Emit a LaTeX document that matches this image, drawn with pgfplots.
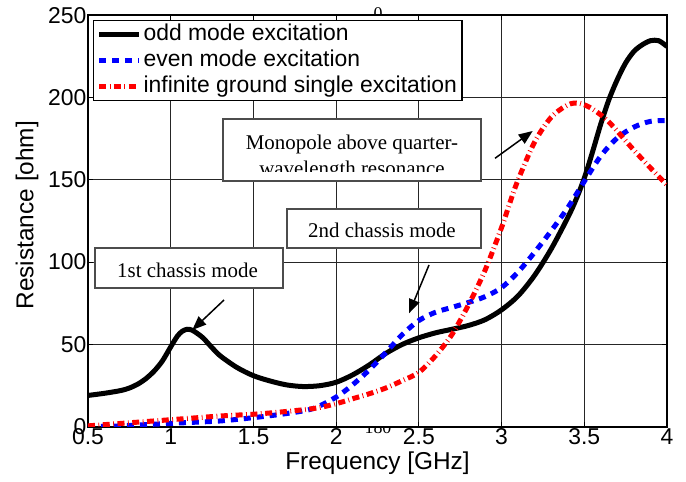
\documentclass[border=0pt]{standalone}
\usepackage{pgfplots}
\pgfplotsset{compat=1.18}
\usepackage{pgfplotstable}
\usepackage{fontspec}
\setmainfont{Liberation Sans}
\newfontfamily\seriffont{Liberation Serif}
\usetikzlibrary{arrows.meta}
\newcommand{\annfont}{\seriffont\fontsize{21}{21}\selectfont}

\pgfplotstableread{
x y
0.50 19
0.60 20.3
0.70 22
0.75 23.5
0.80 25.8
0.85 29.2
0.90 33.8
0.95 40
1.00 48.5
1.04 55
1.07 58
1.10 59.2
1.13 58.6
1.17 56
1.20 53.5
1.25 48
1.30 43
1.40 36
1.50 31
1.60 27.8
1.70 25.4
1.80 24.4
1.90 24.9
2.00 27
2.10 31.5
2.20 37.5
2.30 44.5
2.40 50
2.50 54
2.60 57
2.70 59.2
2.80 61.5
2.90 65
3.00 71
3.10 79.5
3.20 92
3.30 108
3.40 127
3.45 138
3.50 151
3.55 167
3.60 184
3.65 199
3.70 211
3.75 221
3.80 228
3.85 232
3.90 234.5
3.95 234.5
4.00 231
}\oddtab

\pgfplotstableread{
x y
0.50 0
0.70 0.5
0.90 1.5
1.10 2.5
1.30 3.5
1.50 5.5
1.70 8
1.86 11
2.00 18
2.10 25.5
2.20 34.5
2.30 45
2.40 56
2.50 64.5
2.60 69.5
2.70 72.5
2.80 75.5
2.90 79
3.00 84.5
3.10 94
3.20 106
3.30 119
3.40 133
3.50 149
3.60 164.5
3.70 175.5
3.80 182
3.90 185.5
4.00 186
}\eventab

\pgfplotstableread{
x y
0.50 0.5
0.70 2
0.90 3.5
1.10 5
1.30 6.5
1.56 8
1.86 11
2.00 14
2.10 17
2.20 20
2.30 23.5
2.40 28
2.50 33
2.60 43
2.70 56
2.80 74
2.90 95
3.00 121
3.05 136
3.10 150
3.20 173
3.30 188
3.40 195.5
3.47 196.5
3.55 193
3.65 185
3.80 168
3.94 153
4.00 147
}\inftab

\begin{document}
\begin{tikzpicture}
% stray labels partly hidden by the plot area
\node[font=\seriffont\fontsize{18}{18}\selectfont, anchor=base, inner sep=0] at (290bp,406.7bp) {0};
\node[font=\seriffont\fontsize{18}{18}\selectfont, anchor=base, inner sep=0] at (290bp,-6.3bp) {180};
\begin{axis}[
  at={(0,0)}, anchor=south west,
  scale only axis, width=579bp, height=411.5bp,
  xmin=0.5, xmax=4, ymin=0, ymax=250,
  xtick={0.5,1,1.5,2,2.5,3,3.5,4},
  ytick={0,50,100,150,200,250},
  grid=major,
  major grid style={line width=0.8bp, black!85},
  axis line style={line width=1.8bp},
  tick align=inside, major tick length=5bp,
  tick style={black, line width=0.8bp},
  axis background/.style={fill=white},
  /pgf/number format/assume math mode=true,
  xticklabel style={font=\fontsize{23}{23}\selectfont, inner sep=1.5bp, /pgf/number format/fixed},
  yticklabel style={font=\fontsize{23}{23}\selectfont, inner sep=1.5bp},
  xlabel={Frequency [GHz]},
  ylabel={Resistance [ohm]},
  every axis x label/.style={at={(axis description cs:0.5,0)}, anchor=center, yshift=-36.3bp, font=\fontsize{24.5}{24.5}\selectfont},
  every axis y label/.style={at={(axis description cs:0,0.514)}, anchor=center, xshift=-61bp, rotate=90, font=\fontsize{24.5}{24.5}\selectfont},
  legend style={at={(axis description cs:0.0086,0.988)}, anchor=north west,
    draw=black, line width=1.2bp, fill=white,
    font=\fontsize{23}{23}\selectfont,
    inner xsep=3bp, inner ysep=1bp, row sep=0bp,
    cells={anchor=west},
    nodes={inner sep=2bp, text height=17bp, text depth=5bp}},
  legend image code/.code={\draw[#1, line cap=butt] (0bp,0bp) -- (40bp,0bp);},
]
\addplot[black, line width=5bp, smooth, tension=0.5] table[x=x,y=y]{\oddtab};
\addlegendentry{odd mode excitation}
\addplot[blue, line width=5bp, dash pattern=on 7bp off 6bp, smooth, tension=0.5] table[x=x,y=y]{\eventab};
\addlegendentry{even mode excitation}
\addplot[red, line width=5bp, dash pattern=on 7bp off 3.5bp on 0.8bp off 3.5bp, smooth, tension=0.5] table[x=x,y=y]{\inftab};
\addlegendentry{infinite ground single excitation}
\end{axis}
% annotation boxes
\draw[draw=black!70, line width=1.2bp, fill=white] (7bp,138.7bp) rectangle (195bp,178.7bp);
\node[font=\annfont, anchor=base, inner sep=0] at (99.5bp,149.4bp) {1st chassis mode};
\draw[draw=black!70, line width=1.2bp, fill=white] (199bp,178.7bp) rectangle (393bp,217.7bp);
\node[font=\annfont, anchor=base, inner sep=0] at (294bp,189bp) {2nd chassis mode};
\draw[draw=black!70, line width=1.2bp, fill=white] (135bp,245.7bp) rectangle (393bp,307.7bp);
\begin{scope}
\clip (135bp,254.7bp) rectangle (393bp,307.7bp);
\node[font=\annfont, anchor=base, inner sep=0] at (264bp,277.2bp) {Monopole above quarter-};
\node[font=\annfont, anchor=base, inner sep=0] at (264bp,251.2bp) {wavelength resonance};
\end{scope}
% arrows
\draw[line width=1.5bp, -{Triangle[length=14bp,width=11bp]}] (136bp,126.7bp) -- (104.3bp,96.7bp);
\draw[line width=1.5bp, -{Triangle[length=14bp,width=11bp]}] (341bp,161.7bp) -- (321bp,113.4bp);
\draw[line width=1.5bp, -{Triangle[length=14bp,width=11bp]}] (407bp,268.4bp) -- (444.7bp,295.7bp);
\pgfresetboundingbox
\useasboundingbox (-88bp,-55.3bp) rectangle (598bp,426.7bp);
\end{tikzpicture}
\end{document}
